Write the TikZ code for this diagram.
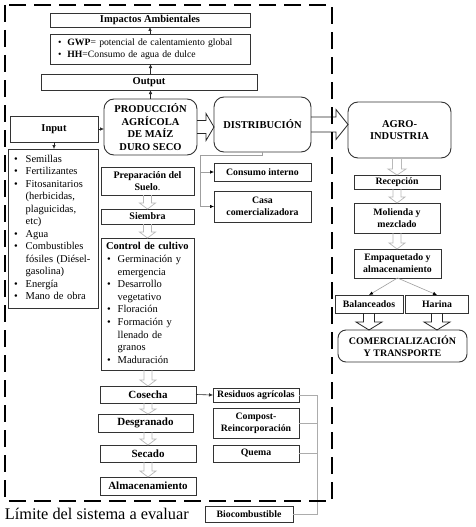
\documentclass[tikz,border=0pt]{standalone}
\usepackage{fontspec}
\setmainfont{Liberation Serif}
\usetikzlibrary{arrows.meta,calc}
\newcommand\vblock[7]{% style, xref point, from, to, shaft half, head half, head length
  \draw[#1] let \p1=(#3.south), \p2=(#4.north), \p3=(#2) in
   (\x3-#5pt,\y1) -- (\x3-#5pt,\y2+#7pt) -- (\x3-#6pt,\y2+#7pt) -- (\x3,\y2)
   -- (\x3+#6pt,\y2+#7pt) -- (\x3+#5pt,\y2+#7pt) -- (\x3+#5pt,\y1);}
\newcommand\hblock[6]{% style, from, to, shaft half, head half, head length
  \draw[#1] let \p1=(#2.east), \p2=(#3.west) in
   (\x1,\y1+#4pt) -- (\x2-#6pt,\y1+#4pt) -- (\x2-#6pt,\y1+#5pt) -- (\x2,\y1)
   -- (\x2-#6pt,\y1-#5pt) -- (\x2-#6pt,\y1-#4pt) -- (\x1,\y1-#4pt);}
\begin{document}
\begin{tikzpicture}[x=1pt,y=-1pt,
  every node/.style={inner sep=0pt, outer sep=0pt},
  box/.style={draw=black!80, line width=0.8pt, fill=white, align=center},
  rbox/.style={box, rounded corners=10pt, line width=0.9pt},
  fbig/.style={font=\bfseries\fontsize{10.5}{12.7}\selectfont},
  fmid/.style={font=\bfseries\fontsize{11}{13}\selectfont},
  fsmall/.style={font=\bfseries\fontsize{9.8}{12}\selectfont},
  freg/.style={font=\fontsize{10.5}{12.5}\selectfont},
  arr/.style={line width=0.6pt, draw=black!85, -{Latex[length=4pt,width=3.5pt]}},
  garr/.style={line width=0.6pt, draw=gray!75, -{Latex[length=4pt,width=3.5pt,color=black]}},
  gline/.style={line width=0.6pt, draw=gray!65},
  hgray/.style={draw=gray!55, line width=0.7pt},
  hblack/.style={draw=black!85, line width=0.8pt},
  limit/.style={draw=black, line width=2.6pt, dash pattern=on 17pt off 8pt}
]
\fill[white] (0,0) rectangle (476,527);
\useasboundingbox (0,0) rectangle (476,527);

% top stack
\node[box,fbig,minimum width=200pt,minimum height=14pt] (impact) at (150,20) {Impactos Ambientales};
\node[box,font=\fontsize{9.7}{12}\selectfont,minimum height=30pt,text width=184pt,inner xsep=8pt,align=left] (gwp) at (150,49)
  {\textbullet\hspace{6pt}\textbf{GWP}= potencial de calentamiento global\\\textbullet\hspace{6pt}\textbf{HH}=Consumo de agua de dulce};
\node[box,fbig,minimum width=216pt,minimum height=16pt] (output) at (149,82) {Output};

% main row
\node[rbox,fbig,minimum width=93pt,minimum height=56pt] (prod) at (150.5,127) {PRODUCCIÓN\\AGRÍCOLA\\DE MAÍZ\\DURO SECO};
\node[rbox,fbig,minimum width=97pt,minimum height=55pt] (dist) at (262.5,124.5) {DISTRIBUCIÓN};
\node[rbox,fbig,minimum width=103pt,minimum height=56pt] (agro) at (399.5,130) {AGRO-\\INDUSTRIA};

% inputs
\node[box,fbig,minimum width=88pt,minimum height=26pt] (input) at (54,129) {Input};
\node[box,freg,minimum height=159pt,text width=78pt,inner xsep=6pt,align=left] (inlist) at (53,228.5)
  {\begin{tabular}{@{}l@{\hspace{8pt}}l@{}}
   \textbullet & Semillas\\ \textbullet & Fertilizantes\\ \textbullet & Fitosanitarios\\
   & (herbicidas,\\ & plaguicidas,\\ & etc)\\ \textbullet & Agua\\ \textbullet & Combustibles\\
   & fósiles (Diésel-\\ & gasolina)\\ \textbullet & Energía\\ \textbullet & Mano de obra
   \end{tabular}};

% production column
\node[box,font=\bfseries\fontsize{10}{12.5}\selectfont,minimum width=93pt,minimum height=28pt] (prep) at (147.5,181) {Preparación del\\Suelo\textmd{.}};
\node[box,font=\bfseries\fontsize{10}{12}\selectfont,minimum width=93pt,minimum height=15pt] (siembra) at (147.5,216.5) {Siembra};
\node[box,font=\fontsize{10.5}{12.6}\selectfont,minimum height=132pt,text width=83pt,inner xsep=5pt,align=left] (control) at (147.5,304)
  {\begin{tabular}{@{\hspace{1pt}}l@{\hspace{7pt}}l@{}}
   \multicolumn{2}{@{}l@{}}{\textbf{Control de cultivo}}\\
   \textbullet & Germinación y\\ & emergencia\\ \textbullet & Desarrollo\\ & vegetativo\\
   \textbullet & Floración\\ \textbullet & Formación y\\ & llenado de\\ & granos\\
   \textbullet & Maduración
   \end{tabular}};
\node[box,fmid,minimum width=96pt,minimum height=17pt] (cosecha) at (148,394.5) {Cosecha};
\node[box,fmid,minimum width=95pt,minimum height=18pt] (desgr) at (145.5,423) {Desgranado};
\node[box,fmid,minimum width=96pt,minimum height=17pt] (secado) at (148,453.5) {Secado};
\node[box,fmid,minimum width=96pt,minimum height=18pt] (almac) at (148,486) {Almacenamiento};

% distribution outputs
\node[box,fsmall,minimum width=97pt,minimum height=18pt] (consumo) at (262.5,172) {Consumo interno};
\node[box,fsmall,minimum width=97pt,minimum height=31pt] (casa) at (262.5,206.5) {Casa\\comercializadora};

% residues
\node[box,fsmall,minimum width=86pt,minimum height=14pt] (resid) at (256,395) {Residuos agrícolas};
\node[box,fsmall,minimum width=86pt,minimum height=30pt] (compost) at (256,423) {Compost-\\Reincorporación};
\node[box,fsmall,minimum width=86pt,minimum height=17pt] (quema) at (256,453.5) {Quema};
\node[box,fsmall,minimum width=88pt,minimum height=16pt] (bio) at (249,514) {Biocombustible};

% agro-industry column
\node[box,fsmall,minimum width=86pt,minimum height=14pt] (recep) at (397,182) {Recepción};
\node[box,fsmall,minimum width=86pt,minimum height=30pt] (moli) at (397,218) {Molienda y\\mezclado};
\node[box,fsmall,minimum width=87pt,minimum height=29pt] (empaq) at (397.5,263.5) {Empaquetado y\\almacenamiento};
\node[box,fsmall,minimum width=68pt,minimum height=18pt] (balan) at (369,304) {Balanceados};
\node[box,fsmall,minimum width=63pt,minimum height=18pt] (harina) at (437,304) {Harina};
\node[rbox,font=\bfseries\fontsize{10}{12}\selectfont,rounded corners=8pt,minimum width=129pt,minimum height=32pt] (comerc) at (402.5,346) {COMERCIALIZACIÓN\\Y TRANSPORTE};

\node[anchor=west,font=\fontsize{16.3}{19}\selectfont] (limite) at (5,514) {Límite del sistema a evaluar};

% small black arrows
\draw[arr] (prod.north) -- (prod.north |- output.south);
\draw[arr] (prod.north |- output.north) -- (prod.north |- gwp.south);
\draw[arr] (gwp.north) -- (impact.south);
\draw[arr] (input.east) -- (input.east -| prod.west);
\draw[arr] (input.south) -- (input.south |- inlist.north);
\draw[arr] (cosecha.east) -- (resid.west);

% distribution branches
\coordinate (dsplit) at (200,155);
\draw[garr] (dist.south) |- (dsplit) |- (casa.west);
\draw[garr] (dsplit |- consumo.west) -- (consumo.west);

% residue bracket
\coordinate (bk) at (317,395);
\draw[gline] (resid.east) -- (bk) -- (bk |- bio.east) -- (bio.east);
\draw[gline] (compost.east) -- (compost.east -| bk);
\draw[gline] (quema.east) -- (quema.east -| bk);

% packaging split
\draw[garr] (empaq.south) -- (balan.north);
\draw[garr] (empaq.south) -- (harina.north);

% hollow block arrows
\hblock{hblack}{prod}{dist}{6.5}{13.5}{8}
\hblock{hblack}{dist}{agro}{7.5}{15}{12}
\vblock{hgray}{prep.south}{prep}{siembra}{4}{8}{6}
\vblock{hgray}{siembra.south}{siembra}{control}{4}{8}{6}
\vblock{hgray}{cosecha.north}{control}{cosecha}{4}{8}{6}
\vblock{hgray}{cosecha.south}{cosecha}{desgr}{4}{8}{5}
\vblock{hgray}{secado.north}{desgr}{secado}{4}{8}{6}
\vblock{hgray}{secado.south}{secado}{almac}{4}{8}{6}
\vblock{hgray}{recep.north}{agro}{recep}{4.5}{9}{6}
\vblock{hgray}{recep.south}{recep}{moli}{4}{8}{6}
\vblock{hgray}{moli.south}{moli}{empaq}{4}{8}{6}
\vblock{hblack}{balan.south}{balan}{comerc}{5.5}{13}{8}
\vblock{hblack}{harina.south}{harina}{comerc}{5.5}{13}{8}

% system boundary
\draw[limit] (5,5) rectangle (332,501);
\end{tikzpicture}
\end{document}
